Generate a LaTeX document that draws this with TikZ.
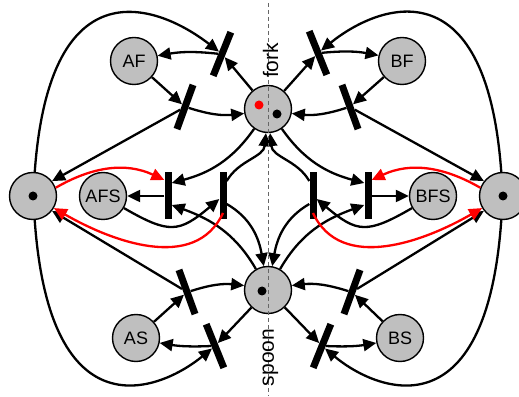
\documentclass[tikz,border=0pt]{standalone}
\usepackage{fontspec}
\setmainfont{Liberation Sans}
\usetikzlibrary{arrows.meta}

\begin{document}
\begin{tikzpicture}[x=1pt,y=1pt,>={Triangle[length=13pt,width=12pt]}]
        \tikzstyle{place}=[draw,shape=circle,fill=black!25,line width=1.4pt,minimum size=47pt,inner sep=0pt,font=\fontsize{18}{20}\selectfont];
        \tikzstyle{trans}=[fill=black,shape=rectangle,minimum width=7pt,minimum height=47pt,inner sep=0pt];
        \tikzstyle{arc}=[->,line width=2.3pt];
        \tikzstyle{hot}=[arc,red];
        \useasboundingbox (0,0) rectangle (519,396);
        %\node[place] (name) at (x,y) {text};
        %\node[trans,rotate=angle] (name) at (x,y) {};
        % places
        \node[place] (A) at (33,200) {};
        \node[place] (B) at (503,200) {};
        \node[place] (fork) at (268,287) {};
        \node[place] (spoon) at (268,106) {};
        \node[place] (AF) at (134,335) {AF};
        \node[place] (BF) at (402,335) {BF};
        \node[place] (AS) at (136,58) {AS};
        \node[place] (BS) at (400,58) {BS};
        \node[place] (AFS) at (103,200) {AFS};
        \node[place] (BFS) at (433,200) {BFS};
        % transitions
        \node[trans,rotate=-22] (t1) at (222,342) {};
        \node[trans,rotate=-20] (t2) at (185,289) {};
        \node[trans,rotate=22] (t3) at (318,343) {};
        \node[trans,rotate=20] (t4) at (350,289) {};
        \node[trans,rotate=20] (t5) at (187,104) {};
        \node[trans,rotate=22] (t6) at (215,50) {};
        \node[trans,rotate=-20] (t7) at (352,104) {};
        \node[trans,rotate=-22] (t8) at (322,50) {};
        \node[trans] (ta1) at (168,200) {};
        \node[trans] (ta2) at (223,200) {};
        \node[trans] (tb1) at (313,200) {};
        \node[trans] (tb2) at (368,200) {};
        % A and the fork
        \draw[arc] (A) .. controls (50,435) and (160,390) .. (t1);
        \draw[arc] (fork) -- (t1);
        \draw[arc] (t1) to[bend right=8] (AF);
        \draw[arc] (AF) -- (t2);
        \draw[arc] (t2) to[bend right=12] (fork);
        \draw[arc] (t2) -- (A.38);
        % B and the fork
        \draw[arc] (B) .. controls (486,435) and (376,390) .. (t3);
        \draw[arc] (fork) -- (t3);
        \draw[arc] (t3) to[bend left=8] (BF);
        \draw[arc] (BF) -- (t4);
        \draw[arc] (t4) to[bend left=12] (fork);
        \draw[arc] (t4) -- (B.142);
        % A and the spoon
        \draw[arc] (A) .. controls (50,-40) and (160,5) .. (t6);
        \draw[arc] (spoon) -- (t6);
        \draw[arc] (t6) to[bend left=6] (AS);
        \draw[arc] (AS) -- (t5);
        \draw[arc] (t5) to[bend left=12] (spoon);
        \draw[arc] (t5) -- (A.-38);
        % B and the spoon
        \draw[arc] (B) .. controls (486,-40) and (376,5) .. (t8);
        \draw[arc] (spoon) -- (t8);
        \draw[arc] (t8) to[bend right=6] (BS);
        \draw[arc] (BS) -- (t7);
        \draw[arc] (t7) to[bend right=12] (spoon);
        \draw[arc] (t7) -- (B.-142);
        % both at once
        \draw[arc] (fork) to[out=235,in=15] ([yshift=13pt]ta1.east);
        \draw[arc] (spoon) to[out=120,in=-20] ([yshift=-9pt]ta1.east);
        \draw[arc] (ta1) -- (AFS);
        \draw[arc] (AFS) to[out=-30,in=220,looseness=1.4] ([yshift=-3pt]ta2.west);
        \draw[arc] ([yshift=15pt]ta2.east) to[out=60,in=265] (fork);
        \draw[arc] ([yshift=-8pt]ta2.east) to[out=-30,in=100] (spoon);
        \draw[hot] (A.20) to[out=30,in=155] ([yshift=16pt]ta1.west);
        \draw[hot] ([yshift=-17pt]ta2.center) to[out=-115,in=-30] (A);
        \draw[arc] (fork) to[out=-55,in=165] ([yshift=13pt]tb2.west);
        \draw[arc] (spoon) to[out=60,in=200] ([yshift=-9pt]tb2.west);
        \draw[arc] (tb2) -- (BFS);
        \draw[arc] (BFS) to[out=210,in=-40,looseness=1.4] ([yshift=-3pt]tb1.east);
        \draw[arc] ([yshift=15pt]tb1.west) to[out=120,in=275] (fork);
        \draw[arc] ([yshift=-8pt]tb1.west) to[out=210,in=80] (spoon);
        \draw[hot] (B.160) to[out=150,in=25] ([yshift=16pt]tb2.east);
        \draw[hot] ([yshift=-17pt]tb1.center) to[out=-65,in=210] (B);
        % tokens
        \fill (A) circle (4.5pt);
        \fill (B) circle (4.5pt);
        \fill[red] (259,291) circle (4.5pt);
        \fill (277,282) circle (4.5pt);
        \fill (262,105) circle (4.5pt);
        % divider
        \coordinate (top) at (268,393);
        \coordinate (bottom) at (268,0);
        \draw[black!60,line width=0.8pt,dash pattern=on 4pt off 3pt] (top) -- (bottom);
        \node[rotate=90,inner sep=0pt,font=\fontsize{21}{23}\selectfont] (forklabel) at (270.5,335.5) {fork};
        \node[rotate=90,inner sep=0pt,font=\fontsize{21}{23}\selectfont] (spoonlabel) at (270.5,38.5) {spoon};
    \end{tikzpicture}
\end{document}
